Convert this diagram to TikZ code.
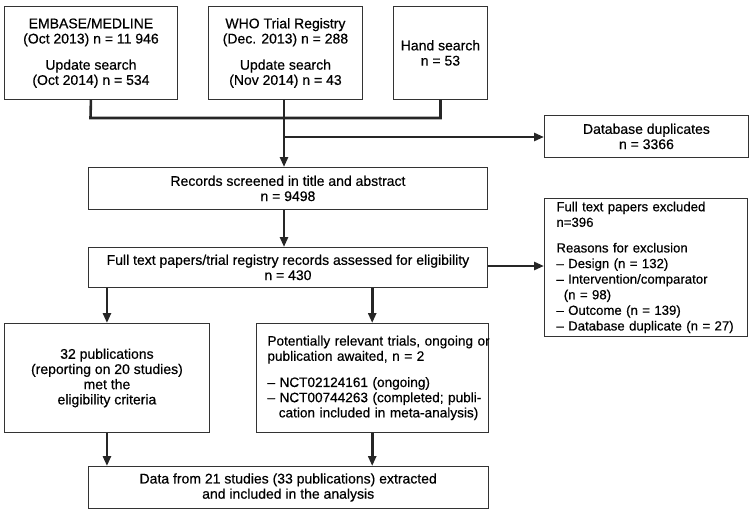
\documentclass[tikz,border=0pt]{standalone}
\usepackage{fontspec}
\setmainfont{Liberation Sans}[FakeBold=0.5]
\usetikzlibrary{arrows.meta,calc}
\begin{document}
\begin{tikzpicture}[x=1pt,y=-1pt,
  box/.style={draw=black!80,line width=0.9pt,anchor=north west,inner sep=0pt,
    font=\fontsize{14}{15.2}\selectfont,align=center},
  lbox/.style={box,align=left},
  conn/.style={line width=2.6pt,black!85},
  arr/.style={conn,-{Triangle[length=10pt,width=8pt]}}]
\useasboundingbox (0,0) rectangle (752,514);
% boxes
\node[box,minimum width=173,minimum height=93] (emb) at (4,6)
  {EMBASE/MEDLINE\\(Oct 2013) n = 11 946\\[11pt]Update search\\(Oct 2014) n = 534};
\node[box,minimum width=154,minimum height=93] (who) at (208,6)
  {WHO Trial Registry\\(Dec. 2013) n = 288\\[11pt]Update search\\(Nov 2014) n = 43};
\node[box,minimum width=94,minimum height=93] (hand) at (393,6)
  {Hand search\\n = 53};
\node[box,minimum width=204,minimum height=42] (dup) at (544,115)
  {Database duplicates\\n = 3366};
\node[box,minimum width=399,minimum height=42] (rec) at (88,167)
  {Records screened in title and abstract\\n = 9498};
\node[box,minimum width=399,minimum height=40] (full) at (88,247)
  {Full text papers/trial registry records assessed for eligibility\\n = 430};
\node[lbox,minimum width=203,minimum height=138,text width=179,inner xsep=12pt,
  font=\fontsize{13.2}{15.6}\selectfont] (excl) at (544,198)
  {Full text papers excluded\\n=396\\[10pt]Reasons for exclusion\\
   – Design (n = 132)\\– Intervention/comparator\\\hspace*{0.556em}(n = 98)\\
   – Outcome (n = 139)\\– Database duplicate (n = 27)};
\node[box,minimum width=205,minimum height=109] (pub) at (4,323)
  {32 publications\\(reporting on 20 studies)\\met the\\eligibility criteria};
\node[lbox,minimum width=231.5,minimum height=109,text width=209.5,inner xsep=11pt,
  font=\fontsize{13.6}{15.2}\selectfont] (trial) at (256,323)
  {\mbox{Potentially relevant trials, ongoing or}\\publication awaited, n = 2\\[11pt]
   – NCT02124161 (ongoing)\\\mbox{– NCT00744263 (completed; publi-}\\\mbox{\hspace*{0.834em}cation included in meta-analysis)}};
\node[box,minimum width=399.5,minimum height=42] (data) at (88,466)
  {Data from 21 studies (33 publications) extracted\\and included in the analysis};
% junction coordinates
\coordinate (j1) at (90.5,118);
\coordinate (j2) at (284,118);
\coordinate (j3) at (284,137);
% connectors
\draw[conn] (emb.south) -- (j1) -- (hand.south |- j1) -- (hand.south);
\draw[arr] (who.south -| j2) -- (rec.north -| j2);
\draw[arr] (j3) -- (dup.west |- j3);
\draw[arr] (rec.south -| j2) -- (full.north -| j2);
\draw[arr] (full.east |- 0,266) -- (excl.west |- 0,266);
\draw[arr] (full.south -| pub.north) -- (pub.north);
\draw[arr] (full.south -| trial.north) -- (trial.north);
\draw[arr] (pub.south) -- (data.north -| pub.south);
\draw[arr] (trial.south) -- (data.north -| trial.south);
\end{tikzpicture}
\end{document}
